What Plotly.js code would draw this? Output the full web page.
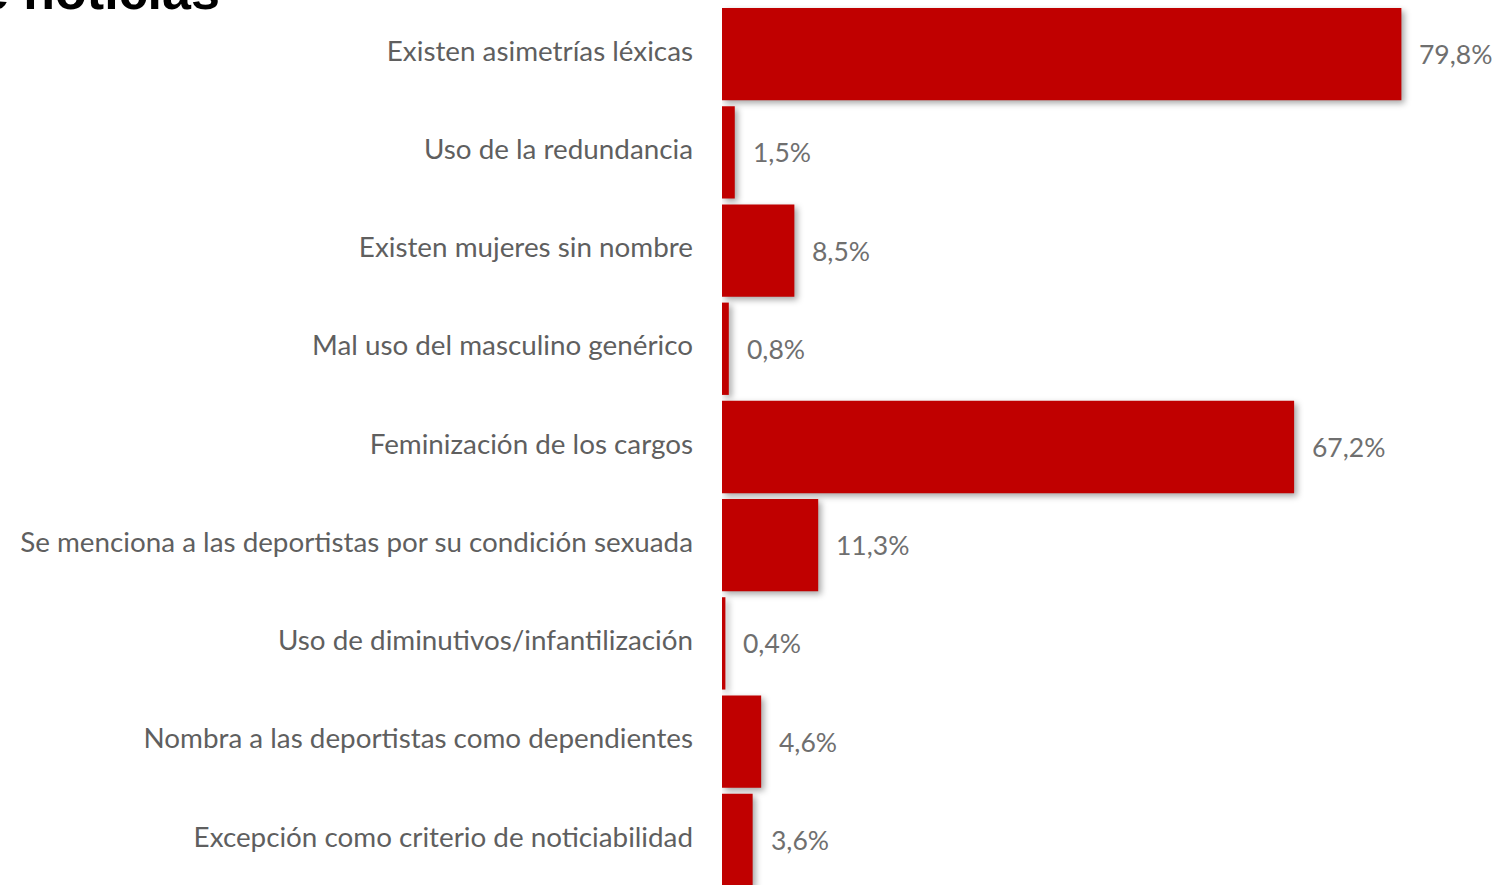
<!DOCTYPE html>
<html>
<head>
<meta charset="utf-8">
<script src="https://cdn.plot.ly/plotly-3.0.1.min.js"></script>
<style>
html,body{margin:0;padding:0;background:#fff;}
#chart{width:1501px;height:885px;}
.barlayer .point path{filter:drop-shadow(3px 3px 3px rgba(0,0,0,0.35));}
</style>
</head>
<body>
<div id="chart"></div>
<script>
const categories = [
  "Existen asimetrías léxicas",
  "Uso de la redundancia",
  "Existen mujeres sin nombre",
  "Mal uso del masculino genérico",
  "Feminización de los cargos",
  "Se menciona a las deportistas por su condición sexuada",
  "Uso de diminutivos/infantilización",
  "Nombra a las deportistas como dependientes",
  "Excepción como criterio de noticiabilidad"
];
const values = [79.8, 1.5, 8.5, 0.8, 67.2, 11.3, 0.4, 4.6, 3.6];
const titleText = "Tipos de sexismo en el lenguaje de noticias";

const fmt = v => v.toFixed(1).replace('.', ',') + '%';

const trace = {
  type: 'bar',
  orientation: 'h',
  y: categories,
  x: values,
  marker: {color: '#C00000'},
  hoverinfo: 'none',
  cliponaxis: false
};

const annotations = values.map((v, i) => ({
  x: v, y: categories[i], xref: 'x', yref: 'y',
  text: fmt(v), showarrow: false, xanchor: 'left', yanchor: 'middle',
  xshift: 16, yshift: 0,
  font: {family: 'Lato, sans-serif', size: 26.5, color: '#6f6f6f'}
}));

annotations.push({
  xref: 'paper', yref: 'paper', x: (222 - 722) / 779, y: 1,
  xanchor: 'right', yanchor: 'bottom', yshift: -17,
  text: '<b>' + titleText + '</b>', showarrow: false,
  font: {family: 'Liberation Sans, Arial, sans-serif', size: 52, color: '#000'}
});

const layout = {
  width: 1501, height: 885,
  margin: {l: 722, r: 0, t: 5, b: 0, pad: 0},
  paper_bgcolor: '#fff', plot_bgcolor: '#fff',
  showlegend: false,
  bargap: 0.06,
  xaxis: {range: [0, 91.5], visible: false, fixedrange: true},
  yaxis: {
    type: 'category',
    range: [8.46, -0.5],
    showgrid: false, zeroline: false, showline: false,
    ticks: '', ticklabelstandoff: 28, ticklabelshift: 3,
    tickfont: {family: 'Lato, sans-serif', size: 27.8, color: '#5f5f5f'},
    fixedrange: true
  },
  annotations: annotations
};

Plotly.newPlot('chart', [trace], layout, {displayModeBar: false, staticPlot: true});
</script>
</body>
</html>
